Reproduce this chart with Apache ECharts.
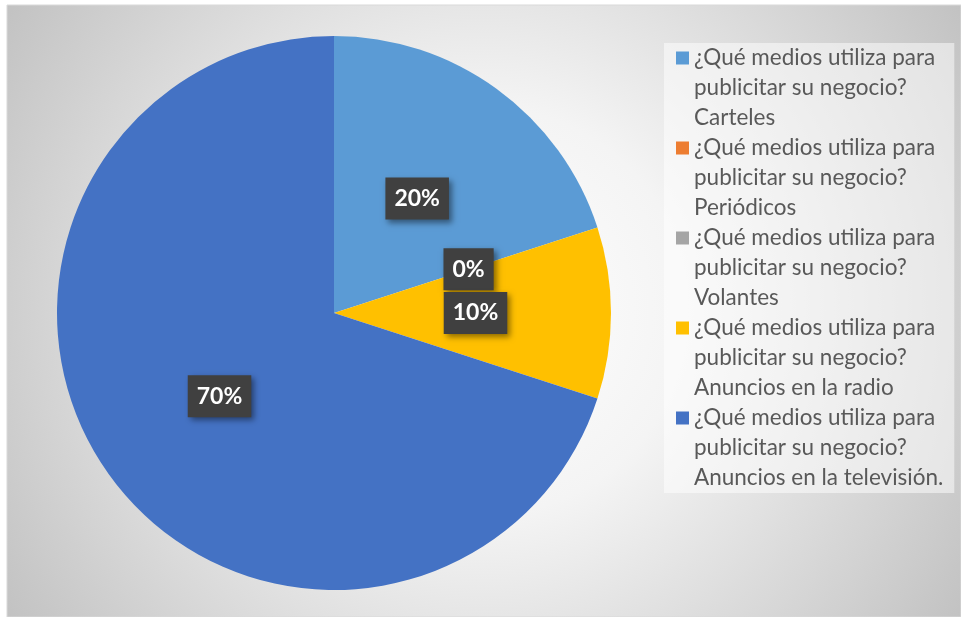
<!DOCTYPE html>
<html>
<head>
<meta charset="utf-8">
<script src="https://cdn.jsdelivr.net/npm/echarts@6/dist/echarts.min.js"></script>
<style>
  html, body { margin: 0; padding: 0; background: #ffffff; }
  #chart { width: 961px; height: 617px; }
</style>
</head>
<body>
<div id="chart"></div>
<script>
// Survey question and the media options answered
const question = '¿Qué medios utiliza para publicitar su negocio?';
const media = ['Carteles', 'Periódicos', 'Volantes', 'Anuncios en la radio', 'Anuncios en la televisión.'];
const shares = [20, 0, 0, 10, 70];
const colors = ['#5B9BD5', '#ED7D31', '#A5A5A5', '#FFC000', '#4472C4'];

const names = media.map(m => question + ' ' + m);

const chart = echarts.init(document.getElementById('chart'));

chart.setOption({
  animation: false,
  color: colors,
  graphic: [{
    type: 'rect',
    z: -10,
    silent: true,
    shape: { x: 7, y: 5, width: 954, height: 612 },
    style: {
      fill: {
        type: 'radial', x: 0.5, y: 0.5, r: 0.95,
        colorStops: [
          { offset: 0, color: '#ffffff' },
          { offset: 0.35, color: '#f4f4f4' },
          { offset: 1, color: '#c0c0c0' }
        ]
      },
      stroke: '#d9d9d9',
      lineWidth: 1
    }
  }],
  legend: {
    orient: 'vertical',
    left: 664,
    top: 43,
    padding: [0, 11, 0, 12],
    itemGap: 0,
    itemWidth: 13,
    itemHeight: 90,
    // square sits beside the first line of each three-line entry
    icon: 'path://M0,0L0,0M0,8.5H13V21.5H0ZM0,90L0,90',
    itemStyle: { borderWidth: 0 },
    backgroundColor: 'rgba(255,255,255,0.5)',
    selectedMode: false,
    formatter: function (name) {
      return name.replace('para ', 'para\n').replace('? ', '?\n');
    },
    textStyle: {
      fontFamily: 'Lato',
      fontSize: 22.5,
      lineHeight: 30,
      color: '#595959'
    },
    data: names
  },
  series: [{
    type: 'pie',
    center: [334, 313],
    radius: 277,
    startAngle: 90,
    clockwise: true,
    itemStyle: { borderWidth: 0 },
    emphasis: { disabled: true },
    label: {
      show: true,
      position: 'inside',
      formatter: '{c}%',
      fontFamily: 'Lato',
      fontWeight: 'bold',
      fontSize: 23,
      lineHeight: 24,
      color: '#ffffff',
      backgroundColor: '#404040',
      padding: [9, 9, 9, 9],
      shadowColor: 'rgba(0,0,0,0.45)',
      shadowBlur: 6,
      shadowOffsetX: 3,
      shadowOffsetY: 3
    },
    labelLine: { show: false },
    data: names.map((n, i) => ({ name: n, value: shares[i] }))
  }]
});
</script>
</body>
</html>
